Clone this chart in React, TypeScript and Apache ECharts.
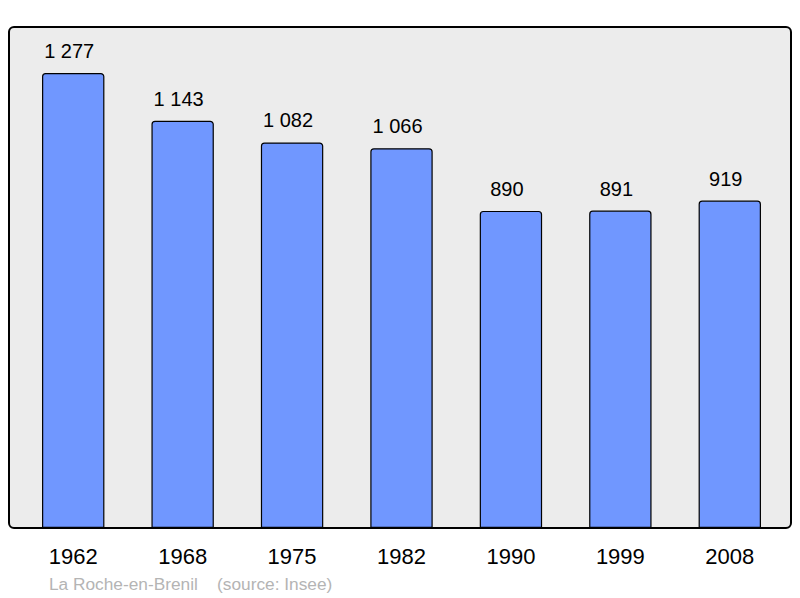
import React, { useEffect, useRef } from "react";
import * as echarts from "echarts";

const years = ["1962", "1968", "1975", "1982", "1990", "1999", "2008"];
const population = [1277, 1143, 1082, 1066, 890, 891, 919];
const footer = "La Roche-en-Brenil    (source: Insee)";

const fmt = (v: number) => {
  const s = String(v);
  return s.length > 3 ? s.slice(0, s.length - 3) + " " + s.slice(-3) : s;
};

export default function App() {
  const ref = useRef<HTMLDivElement>(null);
  useEffect(() => {
    const chart = echarts.init(ref.current!, null, { renderer: "svg" });
    chart.setOption({
      animation: false,
      backgroundColor: "#ffffff",
      textStyle: { fontFamily: "Liberation Sans, Arial, sans-serif" },
      graphic: [
        {
          type: "rect",
          z: -10,
          shape: { x: 9, y: 27, width: 782, height: 501, r: 5 },
          style: { fill: "#ececec", stroke: "#000000", lineWidth: 2 },
        },
        {
          type: "text",
          left: 49,
          top: 575,
          style: {
            text: footer,
            fill: "#b4b4b4",
            font: "17.3px 'Liberation Sans', Arial, sans-serif",
          },
        },
      ],
      grid: { left: 18.5, right: 15.5, top: 73, bottom: 70, containLabel: false },
      xAxis: {
        type: "category",
        data: years,
        axisLine: { show: false },
        axisTick: { show: false },
        axisLabel: {
          color: "#000",
          fontSize: 22,
          margin: 17,
          fontFamily: "Liberation Sans, Arial, sans-serif",
        },
      },
      yAxis: {
        type: "value",
        min: 0,
        max: 1277,
        show: false,
        splitLine: { show: false },
      },
      series: [
        {
          type: "bar",
          data: population,
          barWidth: "57%",
          itemStyle: {
            color: "#7097ff",
            borderColor: "#000",
            borderWidth: 1.2,
            borderRadius: [3, 3, 0, 0],
          },
          label: {
            show: true,
            position: "top",
            distance: 12,
            offset: [-4, 0],
            color: "#000",
            fontSize: 20,
            fontFamily: "Liberation Sans, Arial, sans-serif",
            formatter: (p: any) => fmt(p.value),
          },
        },
      ],
    });
    return () => chart.dispose();
  }, []);
  return <div ref={ref} style={{ width: 800, height: 598, position: "absolute", left: 0, top: 0 }} />;
}
